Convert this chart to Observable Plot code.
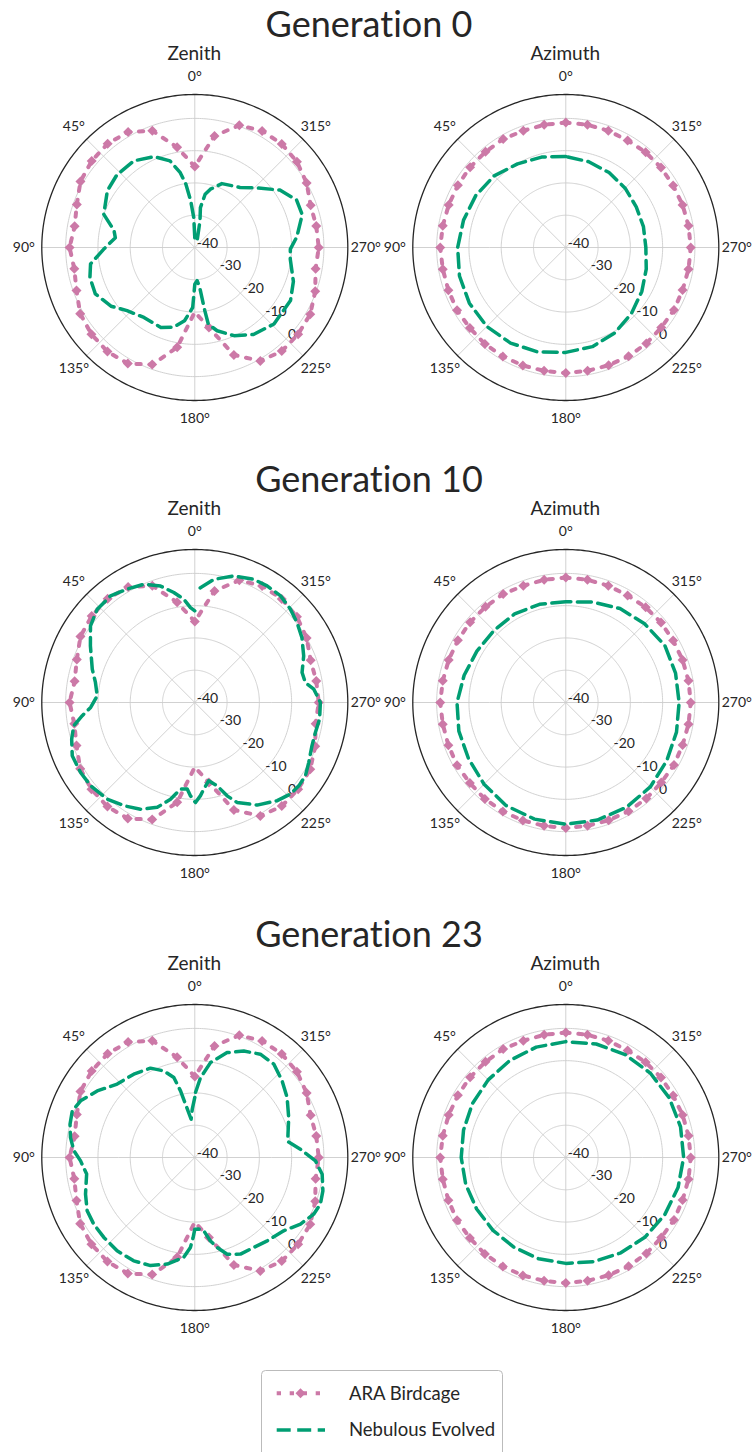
<!DOCTYPE html>
<html><head><meta charset="utf-8">
<script src="https://cdn.jsdelivr.net/npm/d3@7"></script>
<script src="https://cdn.jsdelivr.net/npm/@observablehq/plot@0.6"></script>
<style>
body{margin:0;background:#fff;}
#fig{position:relative;width:754px;height:1452px;overflow:hidden;font-family:Lato,sans-serif;color:#262626;font-variant-ligatures:none;font-feature-settings:"liga" 0,"clig" 0;}
#fig svg, #fig text{font-variant-ligatures:none;font-feature-settings:"liga" 0,"clig" 0;}
.panel{position:absolute;}
#overlay{position:absolute;left:0;top:0;}
</style></head><body><div id="fig"></div>
<script>
// ---------- data ----------
const generations = ["Generation 0", "Generation 10", "Generation 23"];
const panelTitles = ["Zenith", "Azimuth"];
const seriesNames = ["ARA Birdcage", "Nebulous Evolved"];
const angleTicks = [0, 45, 90, 135, 180, 225, 270, 315];
const gainTicks = [-40, -30, -20, -10, 0];

// ARA Birdcage (same reference in all generations), dB at 10° steps
const araAngles = [0,10,20,30,40,50,60,70,80,90,100,110,120,130,140,150,160,170,180,190,200,210,220,230,240,250,260,270,280,290,300,310,320,330,340,350,360];
const araZenithGain = [-14.9,-8.5,-1.5,1.3,2.0,1.7,0.9,-1.1,-2.2,-1.2,-2.1,-1.0,1.0,1.8,2.1,1.5,-1.4,-8.6,-20.0,-14.8,-4.6,0.6,1.9,1.8,1.3,-0.3,-2.0,-1.6,-1.8,-1.8,0.0,1.3,1.9,1.7,0.3,-4.9,-14.9];
const araZenithNoMarker = [180];
const araAzimuthGain = [-1.3,-1.4,-1.5,-1.2,-1.3,-1.3,-1.4,-1.4,-1.3,-1.1,-1.3,-1.3,-1.1,-1.2,-1.0,-1.0,-1.1,-1.2,-1.1,-1.2,-1.2,-1.1,-1.2,-1.4,-1.3,-1.5,-1.4,-1.3,-1.4,-1.5,-1.6,-1.5,-1.5,-1.7,-1.5,-1.4,-1.3];

// Nebulous Evolved: [angle°, gain dB]
const nebZenithGen0 = [[0,-37],[2,-30.7],[5,-25.5],[8,-20.2],[11,-16.4],[16,-12.1],[24,-9.2],[35,-7.2],[47,-7.0],[57,-7.7],[70,-10.0],[78,-14.4],[83,-15.2],[91,-11.8],[99,-7.3],[106,-6.2],[115,-6.0],[125,-8.3],[133,-11.3],[144,-13.2],[157,-13.1],[165,-14.4],[172,-17.1],[178,-21.4],[180,-28.6],[184,-29.7],[187,-27.5],[189,-20.2],[190,-15.9],[195,-13.3],[204,-10.1],[214,-7.5],[226,-5.9],[241,-6.1],[251,-7.7],[263,-10.2],[269,-10.4],[276,-8.2],[287,-5.2],[295,-5.2],[304,-8.2],[314,-13.4],[323,-16.7],[337,-18.5],[345,-21.3],[349,-23.2],[352,-27.5],[349,-31.6],[341,-37.8]];
const nebAzimuthGen0 = [[0,-11.8],[15,-11.0],[30,-10.1],[45,-8.6],[60,-7.8],[75,-7.2],[90,-6.5],[105,-5.9],[120,-5.5],[135,-5.4],[150,-5.8],[165,-6.5],[180,-7.5],[195,-8.2],[210,-9.5],[225,-11.2],[240,-12.8],[255,-14.2],[270,-15.2],[285,-15.1],[300,-14.8],[315,-14.0],[330,-13.2],[345,-12.5],[360,-11.8]];
const nebZenithGen10 = [[0,-11.6],[2.6,-10.6],[6.1,-7.8],[10.8,-5.3],[16.4,-2.4],[23.3,-0.1],[30.8,0.9],[38.3,2.1],[46.3,1.8],[53.7,0.1],[61.5,-3.2],[72,-6.6],[78.6,-8.6],[86.1,-9.7],[92.7,-7.7],[96.7,-4.9],[100.9,-1.8],[106.6,-0.2],[113.5,1.4],[121.5,1.5],[128.6,1.3],[137.8,0.4],[145.5,-1.2],[153,-2.9],[160.3,-5.5],[165.9,-9.1],[170.6,-12.8],[175,-13.1],[177.3,-11.1],[180.4,-9.0],[183.5,-11.1],[185.9,-13.0],[190.1,-15.4],[195,-13.3],[199.1,-9.4],[202.9,-6.4],[211.3,-2.8],[220,-0.3],[226.2,1.0],[231.3,1.3],[236.5,1.1],[242.2,-0.1],[249.7,-1.3],[256,-1.5],[262.4,-1.0],[270,-1.1],[276.4,-2.9],[280.2,-5.2],[285.6,-5.5],[293.2,-3.3],[301.2,-1.2],[308,0.2],[314.3,1.4],[321.2,2.4],[328.2,2.5],[334.4,2.3],[342.9,1.0],[351.2,-1.4],[357.2,-4.4],[359.5,-5.7]];
const nebAzimuthGen10 = [[0,-8.8],[15,-8.5],[30,-8.3],[45,-8.5],[60,-8.2],[75,-7.4],[90,-6.3],[105,-5.7],[120,-5.2],[135,-4.2],[150,-3.1],[165,-2.6],[180,-2.3],[195,-2.3],[210,-2.5],[225,-3.0],[240,-3.9],[255,-4.5],[270,-4.9],[285,-4.8],[300,-4.6],[315,-5.5],[330,-6.4],[345,-7.8],[360,-8.8]];
const nebZenithGen23 = [[0,-21.4],[3,-25],[5.5,-28.1],[9.9,-23.2],[12.1,-18.9],[14.7,-14.4],[19.7,-11.5],[26.4,-9.1],[36.2,-8.0],[46.6,-6.9],[55.7,-3.4],[63.6,-0.5],[69.2,0.6],[75.1,0.0],[80.9,-1.0],[86.8,-2.5],[91.7,-4.6],[98.7,-6.1],[108.5,-4.3],[116.3,-2.8],[123.4,-2.5],[131.3,-2.5],[140.2,-2.4],[149.4,-2.8],[157.7,-3.8],[165.5,-5.9],[173.7,-8.9],[177.2,-12.1],[178.8,-15.2],[180,-17.8],[183.2,-17.8],[187,-17.1],[190.6,-13.7],[193.9,-11.3],[198.5,-8.4],[205.3,-6.9],[213.2,-6.7],[221,-5.8],[230.5,-4.3],[237.8,-1.3],[244.5,0.8],[249.6,1.5],[255.4,1.0],[262.5,-0.2],[268.4,-2.6],[274.5,-7.2],[279.8,-10.8],[293,-8.4],[303,-5.9],[311.3,-4.0],[319.8,-2.1],[327.6,-2.1],[335.3,-3.7],[342.9,-6.0],[350.6,-10.2],[355.9,-15.2],[359.4,-19.9]];
const nebAzimuthGen23 = [[0,-4.1],[15,-4.6],[30,-5.3],[45,-6.0],[60,-6.6],[75,-7.2],[90,-7.6],[105,-7.9],[120,-8.1],[135,-8.1],[150,-7.9],[165,-7.5],[180,-7.2],[195,-6.6],[210,-5.9],[225,-5.2],[240,-4.6],[255,-4.0],[270,-3.5],[285,-3.2],[300,-3.0],[315,-3.0],[330,-3.2],[345,-3.6],[360,-4.1]];

// ---------- styling / layout ----------
const PINK = "#CC79A7", GREEN = "#009E73", INK = "#262626", GRID = "#cccccc";
const RMIN = -40, RMAX = 7.4;            // radial limits (dB)
const RDEG = RMAX - RMIN;                // projected angular radius
const OUTER = 153;                       // px radius of outer circle
const LABEL_R = RDEG * 171 / OUTER;      // angular tick labels radius
const ROW_STEP = 455, ROW0_CY = 246.7;
const COL_CX = [194.3, 565.3];
const PINK_DASH = "4.3,8.7", GREEN_DASH = "14,6.5";

const lat = g => 90 - (g - RMIN);
const toRows = pairs => pairs.map(([angle, gain]) => ({angle, gain}));
const araZenith = araAngles.map((a, i) => ({angle: a, gain: araZenithGain[i]}));
const araAzimuth = araAngles.map((a, i) => ({angle: a, gain: araAzimuthGain[i]}));
const nebByRow = [[nebZenithGen0, nebAzimuthGen0], [nebZenithGen10, nebAzimuthGen10], [nebZenithGen23, nebAzimuthGen23]];

function polar(ara, araMarked, neb, colIdx) {
  const svgLeft = colIdx * 377;
  const ml = COL_CX[colIdx] - svgLeft - OUTER;
  return Plot.plot({
    width: 377, height: 370,
    marginLeft: ml, marginRight: 377 - ml - 2 * OUTER,
    marginTop: 185 - OUTER, marginBottom: 185 - OUTER,
    style: {fontFamily: "Lato, sans-serif", fontSize: "14px", color: INK, background: "transparent", overflow: "visible"},
    projection: {
      type: "azimuthal-equidistant",
      rotate: [180, -90],
      clip: false,
      domain: d3.geoCircle().center([0, 90]).radius(RDEG)()
    },
    marks: [
      Plot.geo(gainTicks.filter(t => t > RMIN), {
        geometry: t => d3.geoCircle().center([0, 90]).radius(t - RMIN).precision(1)(),
        stroke: GRID, strokeWidth: 0.9, fill: "none"
      }),
      Plot.link(angleTicks, {x1: d => d, y1: 90, x2: d => d, y2: lat(RMAX), stroke: GRID, strokeWidth: 0.9}),
      Plot.geo([RMAX], {
        geometry: t => d3.geoCircle().center([0, 90]).radius(t - RMIN).precision(1)(),
        stroke: INK, strokeWidth: 1.3, fill: "none"
      }),
      Plot.text(angleTicks, {x: d => d, y: 90 - LABEL_R, text: d => `${d}°`, fontSize: 14, fill: INK}),
      Plot.text(gainTicks, {x: 225, y: d => lat(d), text: d => String(d), textAnchor: "start", lineAnchor: "bottom", dx: 2, fontSize: 14, fill: INK}),
      Plot.line(ara, {x: "angle", y: d => lat(d.gain), stroke: PINK, strokeWidth: 4, strokeDasharray: PINK_DASH, curve: "linear"}),
      Plot.dot(araMarked, {x: "angle", y: d => lat(d.gain), symbol: "diamond2", r: 4.5, fill: PINK}),
      Plot.line(neb, {x: "angle", y: d => lat(d.gain), stroke: GREEN, strokeWidth: 3.5, strokeDasharray: GREEN_DASH, curve: "linear"})
    ]
  });
}

const fig = document.getElementById("fig");
nebByRow.forEach((pair, r) => {
  const cy = ROW0_CY + ROW_STEP * r;
  [0, 1].forEach(c => {
    const ara = c === 0 ? araZenith : araAzimuth;
    const marked = (c === 0 ? araZenith.filter(d => !araZenithNoMarker.includes(d.angle)) : araAzimuth).filter(d => d.angle < 360);
    const el = polar(ara, marked, toRows(pair[c]), c);
    el.classList.add("panel");
    el.style.left = (c * 377) + "px";
    el.style.top = (cy - 185) + "px";
    el.style.position = "absolute";
    fig.appendChild(el);
  });
});

// overlay: titles, subtitles, legend
const ov = d3.create("svg").attr("id", "overlay").attr("width", 754).attr("height", 1452)
  .style("font-family", "Lato, sans-serif").style("pointer-events", "none");
generations.forEach((g, r) => {
  ov.append("text").attr("x", 369).attr("y", 36.7 + ROW_STEP * r).attr("text-anchor", "middle")
    .attr("font-size", 36).attr("fill", INK).text(g);
  panelTitles.forEach((t, c) => {
    ov.append("text").attr("x", COL_CX[c]).attr("y", 60 + ROW_STEP * r).attr("text-anchor", "middle")
      .attr("font-size", 19).attr("fill", INK).text(t);
  });
});
const lg = ov.append("g");
lg.append("rect").attr("x", 261.5).attr("y", 1370.5).attr("width", 241).attr("height", 110).attr("rx", 4)
  .attr("fill", "white").attr("stroke", "#bbbbbb").attr("stroke-width", 1);
const legendY = [1393.3, 1430];
lg.append("line").attr("x1", 276.7).attr("x2", 325).attr("y1", legendY[0]).attr("y2", legendY[0])
  .attr("stroke", PINK).attr("stroke-width", 4).attr("stroke-dasharray", PINK_DASH);
lg.append("path").attr("d", d3.symbol(d3.symbolDiamond2, Math.PI * 4.5 * 4.5)()).attr("transform", `translate(300.5,${legendY[0]})`).attr("fill", PINK);
lg.append("line").attr("x1", 276.7).attr("x2", 325).attr("y1", legendY[1]).attr("y2", legendY[1])
  .attr("stroke", GREEN).attr("stroke-width", 3.5).attr("stroke-dasharray", GREEN_DASH);
seriesNames.forEach((n, i) => {
  lg.append("text").attr("x", 349).attr("y", legendY[i]).attr("dy", "0.35em").attr("font-size", 18.5).attr("fill", INK).text(n);
});
fig.appendChild(ov.node());
</script></body></html>
